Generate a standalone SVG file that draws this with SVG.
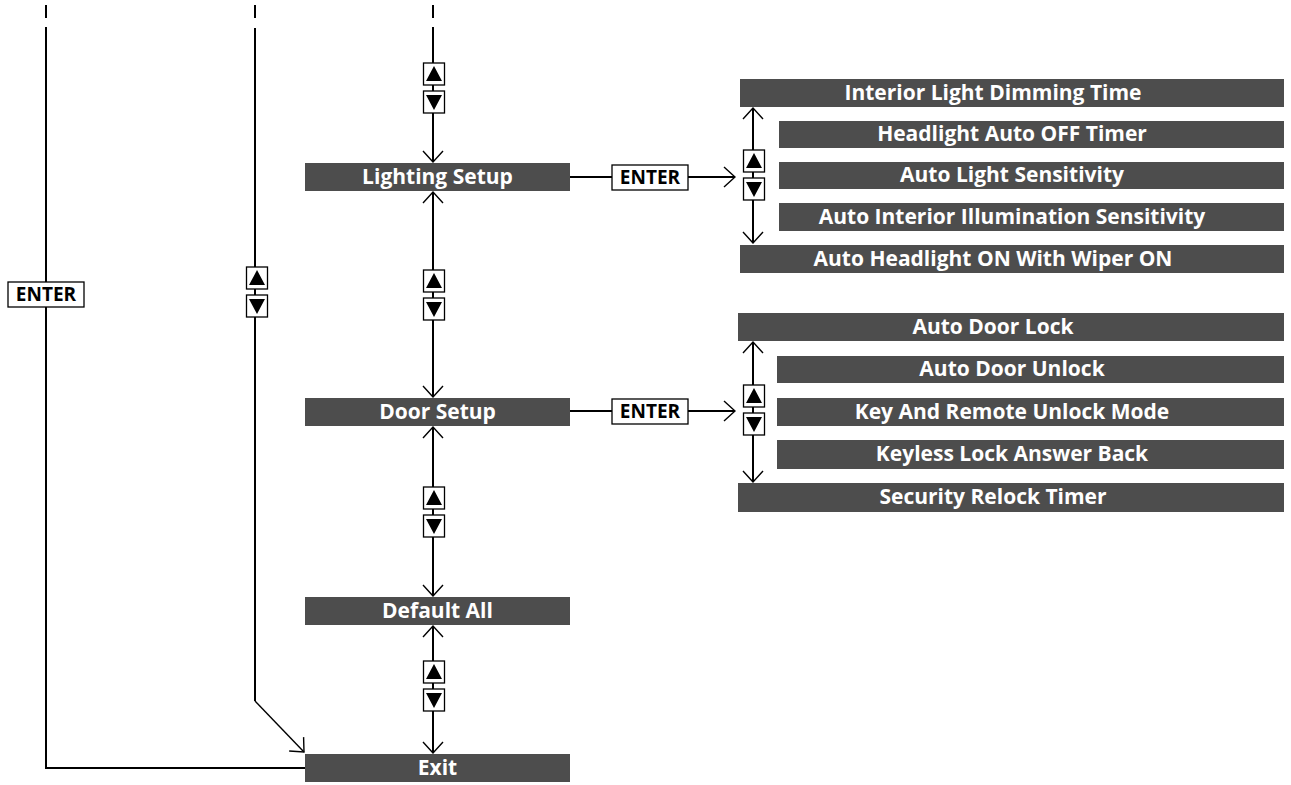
<svg xmlns="http://www.w3.org/2000/svg" width="1291" height="785" viewBox="0 0 1291 785">
<style>
.bar{fill:#4d4d4d}
.bt{fill:#fff;font-family:"Open Sans","Noto Sans",sans-serif;font-weight:bold;font-size:21px;text-anchor:middle}
.ln{stroke:#000;stroke-width:2;fill:none}
.box{fill:#fff;stroke:#000;stroke-width:1.3}
.et{fill:#000;font-family:"Open Sans","Noto Sans",sans-serif;font-weight:bold;font-size:19px;text-anchor:middle}
</style>
<defs>
<marker id="ah" viewBox="-12 -11 13 22" markerWidth="13" markerHeight="22" refX="0" refY="0" orient="auto-start-reverse" markerUnits="userSpaceOnUse">
<path d="M-11,-10 L0,0 L-11,10" fill="none" stroke="#000" stroke-width="1.4"/>
</marker>
<g id="ud">
<rect class="box" x="-10.5" y="0" width="21" height="22"/>
<path d="M-8,18 L0,3 L8,18 Z" fill="#000"/>
<rect class="box" x="-10.5" y="28" width="21" height="22"/>
<path d="M-8,32 L0,47 L8,32 Z" fill="#000"/>
</g>
</defs>

<g id="connectors">
<!-- top dashes -->
<line class="ln" x1="46" y1="5" x2="46" y2="18"/>
<line class="ln" x1="255" y1="5" x2="255" y2="18"/>
<line class="ln" x1="433" y1="5" x2="433" y2="18"/>
<!-- left ENTER path to Exit -->
<polyline class="ln" points="46,27 46,768 305,768"/>
<!-- middle path to Exit -->
<polyline class="ln" points="255,28 255,701"/>
<line x1="255" y1="701" x2="304" y2="752" stroke="#000" stroke-width="1.4" marker-end="url(#ah)"/>
<!-- main column -->
<line class="ln" x1="433" y1="27" x2="433" y2="162" marker-end="url(#ah)"/>
<line class="ln" x1="433" y1="192" x2="433" y2="397" marker-start="url(#ah)" marker-end="url(#ah)"/>
<line class="ln" x1="433" y1="427" x2="433" y2="596" marker-start="url(#ah)" marker-end="url(#ah)"/>
<line class="ln" x1="433" y1="626" x2="433" y2="753" marker-start="url(#ah)" marker-end="url(#ah)"/>
<!-- ENTER connectors -->
<line class="ln" x1="570" y1="177" x2="612" y2="177"/>
<line class="ln" x1="688" y1="177" x2="735" y2="177" marker-end="url(#ah)"/>
<line class="ln" x1="570" y1="411" x2="612" y2="411"/>
<line class="ln" x1="688" y1="411" x2="735" y2="411" marker-end="url(#ah)"/>
<!-- sub lists -->
<line class="ln" x1="753" y1="108" x2="753" y2="243" marker-start="url(#ah)" marker-end="url(#ah)"/>
<line class="ln" x1="753" y1="342" x2="753" y2="482" marker-start="url(#ah)" marker-end="url(#ah)"/>
<!-- up/down boxes -->
<use href="#ud" x="434" y="63"/>
<use href="#ud" x="434" y="270"/>
<use href="#ud" x="434" y="487"/>
<use href="#ud" x="434" y="661"/>
<use href="#ud" x="257" y="267"/>
<use href="#ud" x="754" y="150"/>
<use href="#ud" x="754" y="385"/>
<!-- ENTER boxes -->
<rect class="box" x="8" y="282" width="76" height="25"/>
<text class="et" x="46" y="301">ENTER</text>
<rect class="box" x="612" y="165" width="76" height="25"/>
<text class="et" x="650" y="184">ENTER</text>
<rect class="box" x="612" y="399" width="76" height="25"/>
<text class="et" x="650" y="418">ENTER</text>
</g>

<g id="n-lighting"><rect class="bar" x="305" y="163" width="265" height="28"/><text class="bt" x="437.5" y="184">Lighting Setup</text></g>
<g id="n-door"><rect class="bar" x="305" y="398" width="265" height="28"/><text class="bt" x="437.5" y="419">Door Setup</text></g>
<g id="n-default"><rect class="bar" x="305" y="597" width="265" height="28"/><text class="bt" x="437.5" y="618">Default All</text></g>
<g id="n-exit"><rect class="bar" x="305" y="754" width="265" height="28"/><text class="bt" x="437.5" y="775">Exit</text></g>

<g id="s-interior"><rect class="bar" x="740" y="79" width="544" height="28"/><text class="bt" x="993" y="100">Interior Light Dimming Time</text></g>
<g id="s-headoff"><rect class="bar" x="779" y="121" width="505" height="27"/><text class="bt" x="1012" y="141">Headlight Auto OFF Timer</text></g>
<g id="s-autolight"><rect class="bar" x="779" y="162" width="505" height="27"/><text class="bt" x="1012" y="182">Auto Light Sensitivity</text></g>
<g id="s-autoint"><rect class="bar" x="779" y="203" width="505" height="28"/><text class="bt" x="1012" y="224">Auto Interior Illumination Sensitivity</text></g>
<g id="s-wiper"><rect class="bar" x="740" y="245" width="544" height="28"/><text class="bt" x="993" y="266">Auto Headlight ON With Wiper ON</text></g>

<g id="s-doorlock"><rect class="bar" x="738" y="313" width="546" height="28"/><text class="bt" x="993" y="334">Auto Door Lock</text></g>
<g id="s-doorunlock"><rect class="bar" x="777" y="356" width="507" height="27"/><text class="bt" x="1012" y="376">Auto Door Unlock</text></g>
<g id="s-keyremote"><rect class="bar" x="777" y="398" width="507" height="28"/><text class="bt" x="1012" y="419">Key And Remote Unlock Mode</text></g>
<g id="s-keyless"><rect class="bar" x="777" y="440" width="507" height="29"/><text class="bt" x="1012" y="461">Keyless Lock Answer Back</text></g>
<g id="s-relock"><rect class="bar" x="738" y="483" width="546" height="29"/><text class="bt" x="993" y="504">Security Relock Timer</text></g>
</svg>
